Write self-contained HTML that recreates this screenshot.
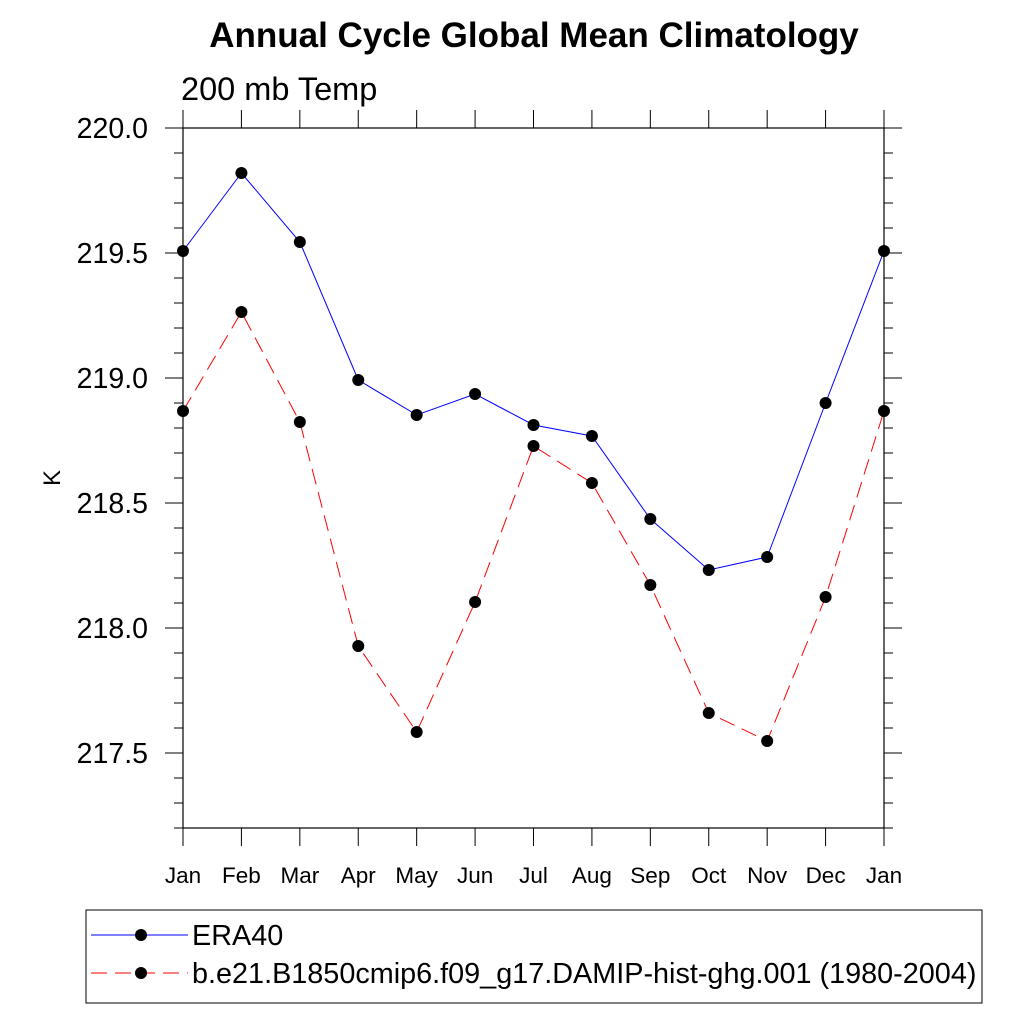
<!DOCTYPE html>
<html><head><meta charset="utf-8"><style>
body{margin:0;background:#fff}
svg{display:block;font-family:"Liberation Sans",sans-serif}
</style></head><body>
<svg id="c" width="1024" height="1024">
<text x="534" y="47" text-anchor="middle" font-size="35" font-weight="bold">Annual Cycle Global Mean Climatology</text>
<text x="181" y="100" font-size="32.5">200 mb Temp</text>
<text x="60" y="478" font-size="24" text-anchor="middle" transform="rotate(-90 60 478)">K</text>
<g id="axes"></g>
<g id="series"></g>
<rect x="86" y="910" width="896" height="93" fill="none" stroke="#000" stroke-width="1"/>
<g>
<line x1="91" y1="935" x2="188" y2="935" stroke="#0000ff" stroke-width="1"/>
<circle cx="141" cy="935" r="6"/>
<text x="192" y="945" font-size="28.8">ERA40</text>
</g>
<g>
<line x1="91" y1="973" x2="188" y2="973" stroke="#ff0000" stroke-width="1" stroke-dasharray="16,8"/>
<circle cx="141" cy="973" r="6"/>
<text x="192" y="983" font-size="28.8">b.e21.B1850cmip6.f09_g17.DAMIP-hist-ghg.001 (1980-2004)</text>
</g>
</svg>
<script>
const months=["Jan","Feb","Mar","Apr","May","Jun","Jul","Aug","Sep","Oct","Nov","Dec","Jan"];
const era40=[219.508,219.82,219.544,218.992,218.852,218.936,218.812,218.768,218.436,218.232,218.284,218.9,219.508];
const model=[218.868,219.264,218.824,217.928,217.584,218.104,218.728,218.58,218.172,217.66,217.548,218.124,218.868];
const yTicks=[217.5,218.0,218.5,219.0,219.5,220.0];
const yMin=217.2,yMax=220.0;
const L=183,R=884,T=128,B=828;
const NS="http://www.w3.org/2000/svg";
const X=i=>L+(R-L)*i/12;
const Y=v=>B-(v-yMin)/(yMax-yMin)*(B-T);
function mk(t,a,p){const e=document.createElementNS(NS,t);for(const k in a)e.setAttribute(k,a[k]);p.appendChild(e);return e;}
const ax=document.getElementById('axes');
const fr=mk('rect',{x:L,y:T,width:R-L,height:B-T,fill:'none',stroke:'#000','stroke-width':1.2},ax);


for(let v=2172;v<=2200;v++){
  const y=Y(v/10),maj=(v%5===0);const len=maj?18:9;
  mk('line',{x1:L-len,y1:y,x2:L,y2:y,stroke:'#000','stroke-width':1},ax);
  mk('line',{x1:R,y1:y,x2:R+len,y2:y,stroke:'#000','stroke-width':1},ax);
}
yTicks.forEach(v=>{
  const t=mk('text',{x:148,y:Y(v)+10,'text-anchor':'end','font-size':28.5},ax);t.textContent=v.toFixed(1);
  
  
});
months.forEach((m,i)=>{
  const x=X(i);
  mk('line',{x1:x,y1:B,x2:x,y2:B+18,stroke:'#000','stroke-width':1},ax);
  mk('line',{x1:x,y1:T-18,x2:x,y2:T,stroke:'#000','stroke-width':1},ax);
  const t=mk('text',{x:x,y:883,'text-anchor':'middle','font-size':22.5},ax);t.textContent=m;
  
  
});
const sg=document.getElementById('series');
function draw(vals,color,dash,name){
  const g=mk('g',{},sg);
  
  
  mk('polyline',{points:vals.map((v,i)=>X(i)+','+Y(v)).join(' '),fill:'none',stroke:color,'stroke-width':1,'stroke-dasharray':dash},g);
  vals.forEach((v,i)=>{const c=mk('circle',{cx:X(i),cy:Y(v),r:6},g);
    
    });
}
draw(model,'#ff0000','16,8','series-model');
draw(era40,'#0000ff','none','series-era40');
</script>
</body></html>
